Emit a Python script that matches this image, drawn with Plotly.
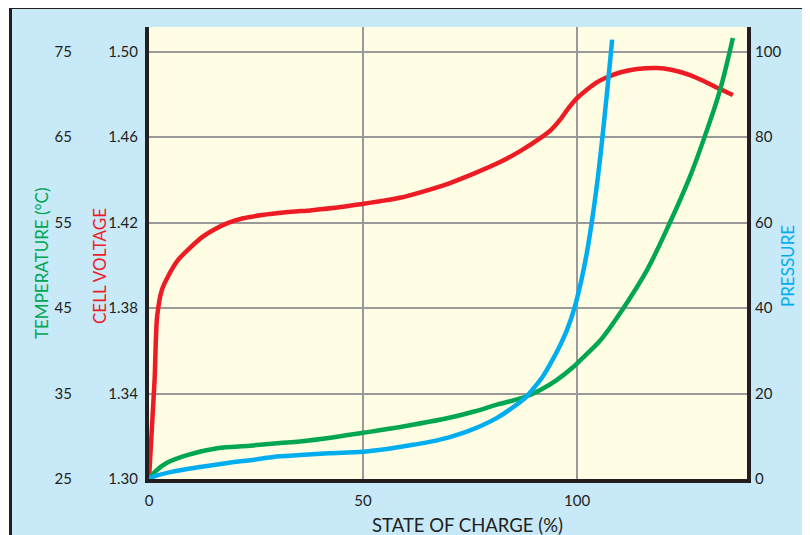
import plotly.graph_objects as go

# ---------------- data ----------------
soc_voltage = [0, 1.3, 1.9, 3.0, 4.5, 6.8, 9.5, 12.4, 15.5, 18.5, 22, 26.4, 32, 38.1,
               44, 49.8, 54, 58.6, 64, 70.3, 76, 82, 87, 91.4, 94, 96, 98, 100, 102.5, 104.7, 107,
               110, 114, 118.7, 122, 126.4, 130, 133, 136.4]
voltage = [1.300, 1.346, 1.376, 1.3884, 1.395, 1.4025, 1.408, 1.4132, 1.417,
           1.4198, 1.422, 1.4235, 1.4248, 1.4258, 1.4270, 1.4287, 1.4300, 1.4316, 1.4345, 1.4385,
           1.443, 1.4483, 1.4538, 1.4595, 1.4635, 1.468, 1.4735, 1.4782, 1.4825, 1.4857, 1.488,
           1.4902, 1.4918, 1.4923, 1.4915, 1.489, 1.4858, 1.4828, 1.4797]

soc_temp = [0, 1.5, 4.2, 8.9, 15.9, 23.6, 30.6, 35.3, 42, 50, 60, 69.6, 76, 81.3, 87.9, 91.4, 95.3,
            99.1, 102, 105.4, 110.7, 116.4, 121.7, 126.4, 130.4, 133.4, 136.4]
temperature = [25, 25.9, 26.9, 27.8, 28.6, 28.9, 29.2, 29.4, 29.8, 30.4, 31.2, 32.1, 32.9, 33.7,
               34.6, 35.4, 36.6, 38.1, 39.5, 41.2, 44.9, 49.5, 55, 60.4, 65.9, 70.5, 76.6]

soc_pressure = [0, 0.9, 5, 11.9, 18, 23.6, 30.6, 35.3, 42, 50, 56, 61.7, 68, 73.4, 77.5, 81.3, 84.5,
                87.9, 90, 92, 94, 96, 97.7, 99.5, 101, 102.3, 103.5, 104.6, 105.6, 106.6, 107.5,
                108.2]
pressure = [0, 0.5, 1.6, 2.8, 3.7, 4.4, 5.3, 5.6, 6.0, 6.4, 7.1, 8.0, 9.2, 10.8, 12.4, 14.3, 16.4,
            19.0, 21.4, 24.0, 27.4, 31.2, 35.0, 40.4, 46.5, 53.0, 60.5, 68.5, 77.0, 86.5, 95.5,
            102.8]

x_ticks = [0, 50, 100]
voltage_ticks = [1.30, 1.34, 1.38, 1.42, 1.46, 1.50]
temp_ticks = [25, 35, 45, 55, 65, 75]
pressure_ticks = [0, 20, 40, 60, 80, 100]

# ---------------- style ----------------
W, H = 810, 535
OFF = 8  # page body margin offset
RED = "#ED1C24"
GREEN = "#00A651"
BLUE = "#00AEEF"
DARK = "#231F20"
GRID = "#999999"
FONT = "Lato"


def fx(px):
    return (px - OFF) / W


def fy(py):
    return 1 - (py - OFF) / H


xdom = [fx(149), fx(747)]
ydom = [fy(479), fy(27)]

fig = go.Figure()
fig.add_trace(go.Scatter(x=soc_voltage, y=voltage, mode="lines", yaxis="y",
                         line=dict(color=RED, width=4.5, shape="spline", smoothing=0.8)))
fig.add_trace(go.Scatter(x=soc_temp, y=temperature, mode="lines", yaxis="y2",
                         line=dict(color=GREEN, width=4.5, shape="spline", smoothing=1.0)))
fig.add_trace(go.Scatter(x=soc_pressure, y=pressure, mode="lines", yaxis="y3",
                         line=dict(color=BLUE, width=4.5, shape="spline", smoothing=1.0)))

tickfont = dict(family=FONT, size=15, color=DARK)
titlefont = 17

fig.update_layout(
    width=W, height=H, template="none",
    margin=dict(l=0, r=0, t=0, b=0, autoexpand=False),
    paper_bgcolor="white", plot_bgcolor="rgba(0,0,0,0)",
    showlegend=False,
    xaxis=dict(domain=xdom, range=[0, 139.7], tickvals=x_ticks, ticktext=[str(v) for v in x_ticks],
               showgrid=True, gridcolor=GRID, gridwidth=2, zeroline=False,
               showline=True, linecolor=DARK, linewidth=4, ticks="", tickfont=tickfont,
               ticklabelstandoff=5, automargin=False, anchor="y"),
    yaxis=dict(domain=ydom, range=[1.30, 1.5115], tickvals=voltage_ticks,
               ticktext=[f"{v:.2f}" for v in voltage_ticks],
               showgrid=True, gridcolor=GRID, gridwidth=2, zeroline=False,
               showline=True, linecolor=DARK, linewidth=4, ticks="", tickfont=tickfont,
               ticklabelstandoff=4, automargin=False, anchor="x", side="left"),
    yaxis2=dict(domain=ydom, range=[25, 77.875], tickvals=temp_ticks,
                ticktext=[str(v) for v in temp_ticks], overlaying="y", anchor="free",
                position=fx(72), side="left", showgrid=False, zeroline=False, showline=False,
                ticks="", tickfont=tickfont, ticklabelstandoff=0, automargin=False),
    yaxis3=dict(domain=ydom, range=[0, 105.75], tickvals=pressure_ticks,
                ticktext=[str(v) for v in pressure_ticks], overlaying="y", anchor="x",
                side="right", showgrid=False, zeroline=False, showline=True, linecolor=DARK,
                linewidth=4, ticks="", tickfont=tickfont, ticklabelstandoff=1, automargin=False),
    shapes=[
        dict(type="rect", xref="paper", yref="paper", x0=fx(10.5), x1=fx(806.5),
             y0=-0.05, y1=fy(7.5), fillcolor="#C7E9F8",
             line=dict(color=DARK, width=3), layer="below"),
        dict(type="rect", xref="paper", yref="paper", x0=xdom[0], x1=xdom[1],
             y0=ydom[0], y1=ydom[1], fillcolor="#FFFDE3", line=dict(width=0), layer="below"),
    ],
    annotations=[
        dict(text="TEMPERATURE (°C)", x=fx(42), y=fy(264), xref="paper", yref="paper",
             xanchor="center", yanchor="middle", textangle=-90, showarrow=False,
             font=dict(family=FONT, size=titlefont, color=GREEN)),
        dict(text="CELL VOLTAGE", x=fx(99), y=fy(266), xref="paper", yref="paper",
             xanchor="center", yanchor="middle", textangle=-90, showarrow=False,
             font=dict(family=FONT, size=titlefont, color=RED)),
        dict(text="PRESSURE", x=fx(787), y=fy(266), xref="paper", yref="paper",
             xanchor="center", yanchor="middle", textangle=-90, showarrow=False,
             font=dict(family=FONT, size=titlefont, color=BLUE)),
        dict(text="STATE OF CHARGE (%)", x=fx(467), y=fy(525), xref="paper", yref="paper",
             xanchor="center", yanchor="middle", showarrow=False,
             font=dict(family=FONT, size=18.5, color=DARK)),
    ],
)

fig.write_html("out.html")
